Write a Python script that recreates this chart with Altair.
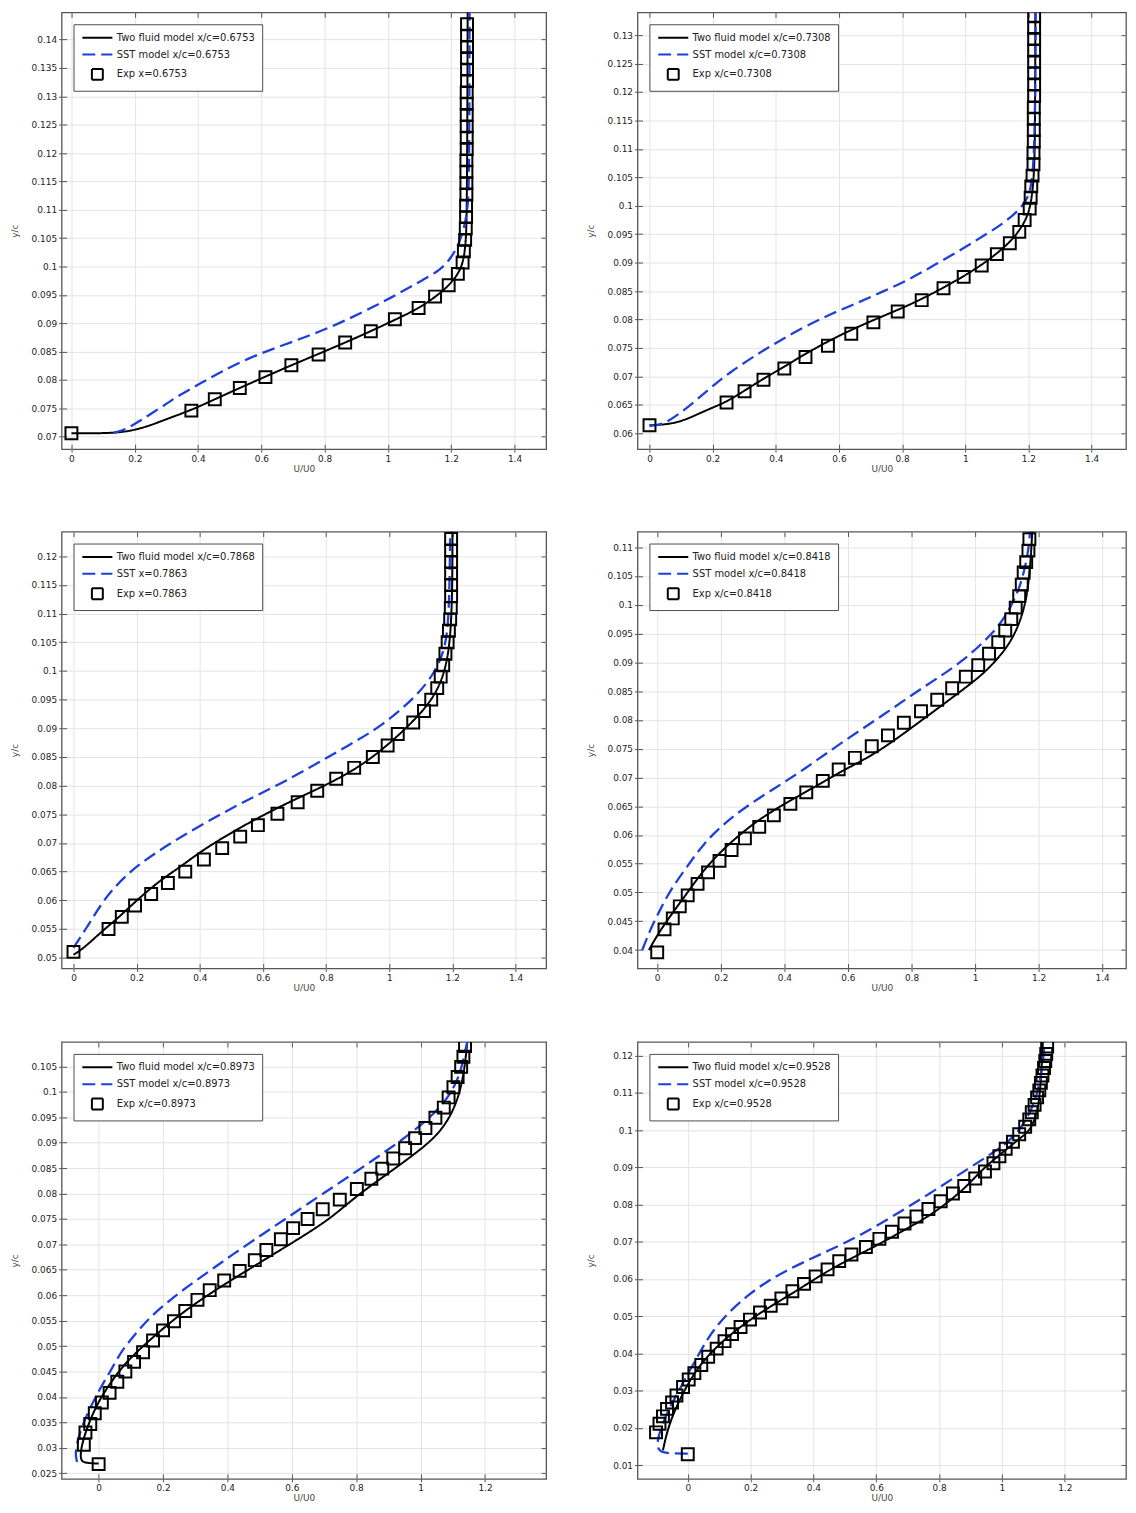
import altair as alt
import pandas as pd

FONT = "DejaVu Sans"
BLUE = "#1f3fdc"

# ---------------- tick values ----------------
X_TICKS_A = [0, 0.2, 0.4, 0.6, 0.8, 1, 1.2, 1.4]
X_TICKS_B = [0, 0.2, 0.4, 0.6, 0.8, 1, 1.2]
Y_TICKS_1 = [0.07, 0.075, 0.08, 0.085, 0.09, 0.095, 0.1, 0.105, 0.11, 0.115, 0.12, 0.125, 0.13, 0.135, 0.14]
Y_TICKS_2 = [0.06, 0.065, 0.07, 0.075, 0.08, 0.085, 0.09, 0.095, 0.1, 0.105, 0.11, 0.115, 0.12, 0.125, 0.13]
Y_TICKS_3 = [0.05, 0.055, 0.06, 0.065, 0.07, 0.075, 0.08, 0.085, 0.09, 0.095, 0.1, 0.105, 0.11, 0.115, 0.12]
Y_TICKS_4 = [0.04, 0.045, 0.05, 0.055, 0.06, 0.065, 0.07, 0.075, 0.08, 0.085, 0.09, 0.095, 0.1, 0.105, 0.11]
Y_TICKS_5 = [0.025, 0.03, 0.035, 0.04, 0.045, 0.05, 0.055, 0.06, 0.065, 0.07, 0.075, 0.08, 0.085, 0.09, 0.095, 0.1, 0.105]
Y_TICKS_6 = [0.01, 0.02, 0.03, 0.04, 0.05, 0.06, 0.07, 0.08, 0.09, 0.1, 0.11, 0.12]

# ---------------- legend labels ----------------
LABELS_1 = ["Two fluid model x/c=0.6753", "SST model x/c=0.6753", "Exp x=0.6753"]
LABELS_2 = ["Two fluid model x/c=0.7308", "SST model x/c=0.7308", "Exp x/c=0.7308"]
LABELS_3 = ["Two fluid model x/c=0.7868", "SST x=0.7863", "Exp x=0.7863"]
LABELS_4 = ["Two fluid model x/c=0.8418", "SST model x/c=0.8418", "Exp x/c=0.8418"]
LABELS_5 = ["Two fluid model x/c=0.8973", "SST model x/c=0.8973", "Exp x/c=0.8973"]
LABELS_6 = ["Two fluid model x/c=0.9528", "SST model x/c=0.9528", "Exp x/c=0.9528"]

# ---------------- panel 1 (x/c = 0.6753) ----------------
TF1_X = [0.0, 0.10, 0.16, 0.20, 0.25, 0.30, 0.379, 0.453, 0.532, 0.613, 0.695, 0.781, 0.865, 0.946, 1.022, 1.097, 1.149, 1.192, 1.221, 1.237, 1.245, 1.250, 1.252]
TF1_Y = [0.0706, 0.0706, 0.0708, 0.0712, 0.0720, 0.0731, 0.0747, 0.0766, 0.0786, 0.0806, 0.0826, 0.0846, 0.0866, 0.0886, 0.0906, 0.0926, 0.0946, 0.0966, 0.0986, 0.1006, 0.1035, 0.108, 0.1448]
SST1_X = [0.132, 0.17, 0.211, 0.284, 0.337, 0.411, 0.474, 0.558, 0.642, 0.726, 0.811, 0.916, 1.010, 1.100, 1.167, 1.201, 1.224, 1.240, 1.252, 1.257, 1.258]
SST1_Y = [0.0707, 0.0712, 0.0726, 0.0752, 0.0772, 0.0795, 0.0815, 0.0838, 0.0856, 0.0873, 0.0891, 0.0918, 0.0945, 0.0973, 0.0994, 0.1016, 0.1040, 0.1066, 0.110, 0.115, 0.1448]
EXP1_X = [0.0, 0.379, 0.453, 0.532, 0.613, 0.695, 0.781, 0.865, 0.946, 1.022, 1.097, 1.149, 1.192, 1.221, 1.236, 1.240, 1.244,
          1.246, 1.247, 1.247, 1.248, 1.248, 1.248, 1.248, 1.249, 1.249, 1.249, 1.249, 1.249, 1.249, 1.250, 1.250, 1.250, 1.250, 1.250, 1.250]
EXP1_Y = [0.0706, 0.0746, 0.0766, 0.0786, 0.0805, 0.0826, 0.0845, 0.0866, 0.0886, 0.0907, 0.0927, 0.0947, 0.0967, 0.0987, 0.1007, 0.1027, 0.1047,
          0.1067, 0.1087, 0.1107, 0.1127, 0.1147, 0.1167, 0.1187, 0.1207, 0.1227, 0.1247, 0.1267, 0.1287, 0.1307, 0.1327, 0.1347, 0.1367, 0.1387, 0.1407, 0.1427]

# ---------------- panel 2 (x/c = 0.7308) ----------------
TF2_X = [0.0, 0.068, 0.12, 0.173, 0.244, 0.301, 0.361, 0.427, 0.5, 0.6, 0.7, 0.8, 0.862, 0.931, 0.995, 1.052, 1.100, 1.141, 1.171, 1.192, 1.205, 1.213, 1.218, 1.221, 1.222]
TF2_Y = [0.0614, 0.0616, 0.0625, 0.0639, 0.0655, 0.0675, 0.0696, 0.0717, 0.0742, 0.0772, 0.0797, 0.0820, 0.0836, 0.0856, 0.0876, 0.0896, 0.0916, 0.0936, 0.0956, 0.0976, 0.0996, 0.1025, 0.106, 0.112, 0.134]
SST2_X = [0.0, 0.047, 0.099, 0.152, 0.204, 0.257, 0.330, 0.403, 0.487, 0.571, 0.654, 0.738, 0.822, 0.906, 0.991, 1.060, 1.116, 1.173, 1.201, 1.213, 1.221, 1.223]
SST2_Y = [0.0613, 0.0616, 0.0636, 0.0660, 0.0685, 0.0708, 0.0735, 0.0760, 0.0786, 0.0809, 0.0828, 0.0849, 0.0870, 0.0897, 0.0924, 0.0948, 0.0967, 0.0993, 0.1016, 0.1045, 0.113, 0.134]
EXP2_X = [0.0, 0.244, 0.301, 0.361, 0.427, 0.494, 0.565, 0.639, 0.709, 0.786, 0.862, 0.931, 0.995, 1.052, 1.100, 1.141, 1.171, 1.188, 1.204, 1.207, 1.209, 1.213,
          1.216, 1.216, 1.217, 1.217, 1.217, 1.217, 1.218, 1.218, 1.218, 1.218, 1.218, 1.218, 1.218, 1.218]
EXP2_Y = [0.0614, 0.0654, 0.0674, 0.0694, 0.0714, 0.0734, 0.0754, 0.0775, 0.0795, 0.0814, 0.0834, 0.0855, 0.0875, 0.0895, 0.0915, 0.0934, 0.0954, 0.0975, 0.0995, 0.1014, 0.1034, 0.1053,
          0.1073, 0.1093, 0.1113, 0.1133, 0.1153, 0.1173, 0.1193, 0.1213, 0.1233, 0.1253, 0.1273, 0.1293, 0.1313, 0.1333]

# ---------------- panel 3 (x/c = 0.7868) ----------------
TF3_X = [0.0, 0.02, 0.045, 0.097, 0.149, 0.202, 0.275, 0.338, 0.40, 0.484, 0.588, 0.693, 0.797, 0.902, 1.0, 1.1, 1.15, 1.18, 1.195, 1.2, 1.2]
TF3_Y = [0.0505, 0.0512, 0.0523, 0.0549, 0.0573, 0.0601, 0.0635, 0.0658, 0.0684, 0.0713, 0.0745, 0.0774, 0.0800, 0.0831, 0.0872, 0.0925, 0.0962, 0.1005, 0.1062, 0.115, 0.1243]
SST3_X = [0.0, 0.045, 0.087, 0.128, 0.191, 0.264, 0.338, 0.421, 0.505, 0.588, 0.672, 0.776, 0.870, 0.975, 1.087, 1.143, 1.176, 1.190, 1.193]
SST3_Y = [0.0517, 0.0555, 0.0593, 0.0622, 0.0656, 0.0684, 0.0710, 0.0736, 0.0762, 0.0785, 0.0808, 0.0840, 0.0870, 0.0903, 0.0956, 0.0996, 0.1036, 0.1093, 0.1243]
EXP3_X = [0.0, 0.111, 0.153, 0.195, 0.246, 0.299, 0.354, 0.413, 0.471, 0.528, 0.584, 0.646, 0.710, 0.772, 0.832, 0.889, 0.948, 0.995, 1.027, 1.076,
          1.110, 1.133, 1.152, 1.163, 1.171, 1.178, 1.185, 1.189, 1.193, 1.195, 1.196, 1.196, 1.196, 1.196, 1.196, 1.196]
EXP3_Y = [0.0510, 0.0550, 0.0571, 0.0591, 0.0611, 0.0630, 0.0650, 0.0671, 0.0691, 0.0711, 0.0731, 0.0751, 0.0771, 0.0791, 0.0812, 0.0831, 0.0850, 0.0870, 0.0890, 0.0910,
          0.0930, 0.0950, 0.0970, 0.0990, 0.1010, 0.1030, 0.1050, 0.1070, 0.1090, 0.1110, 0.1130, 0.1150, 0.1170, 0.1190, 0.1210, 0.1230]

# ---------------- panel 4 (x/c = 0.8418) ----------------
TF4_X = [-0.026, 0.0, 0.042, 0.094, 0.146, 0.198, 0.25, 0.3125, 0.396, 0.479, 0.583, 0.6875, 0.8, 0.9, 1.0, 1.05, 1.1, 1.13, 1.15, 1.165, 1.175, 1.18]
TF4_Y = [0.0400, 0.0426, 0.0460, 0.0499, 0.0539, 0.0570, 0.0596, 0.0624, 0.0653, 0.0678, 0.0712, 0.0741, 0.0786, 0.0827, 0.0868, 0.0893, 0.0925, 0.0955, 0.0985, 0.102, 0.1075, 0.1127]
SST4_X = [-0.047, -0.021, 0.010, 0.042, 0.094, 0.146, 0.208, 0.281, 0.375, 0.46, 0.573, 0.708, 0.842, 0.955, 1.067, 1.112, 1.145, 1.168, 1.173]
SST4_Y = [0.0400, 0.0437, 0.0471, 0.0505, 0.0545, 0.0585, 0.0619, 0.0650, 0.0683, 0.0713, 0.0758, 0.0807, 0.0859, 0.0898, 0.0955, 0.0995, 0.1035, 0.1091, 0.1127]
EXP4_X = [0.0, 0.023, 0.049, 0.071, 0.096, 0.127, 0.160, 0.196, 0.234, 0.276, 0.321, 0.367, 0.419, 0.469, 0.521, 0.571, 0.622, 0.675, 0.726, 0.776,
          0.830, 0.881, 0.928, 0.971, 1.010, 1.044, 1.073, 1.095, 1.114, 1.128, 1.139, 1.147, 1.153, 1.161, 1.168, 1.171]
EXP4_Y = [0.0396, 0.0436, 0.0455, 0.0476, 0.0495, 0.0515, 0.0535, 0.0555, 0.0574, 0.0594, 0.0614, 0.0634, 0.0654, 0.0674, 0.0694, 0.0714, 0.0734, 0.0754, 0.0773, 0.0795,
          0.0815, 0.0835, 0.0855, 0.0875, 0.0895, 0.0915, 0.0935, 0.0955, 0.0975, 0.0995, 0.1015, 0.1035, 0.1056, 0.1074, 0.1094, 0.1114]

# ---------------- panel 5 (x/c = 0.8973) ----------------
TF5_X = [0.0, -0.03, -0.054, -0.057, -0.050, -0.033, -0.012, 0.013, 0.050, 0.091, 0.143, 0.195, 0.257, 0.319, 0.402, 0.485, 0.567, 0.650, 0.730, 0.800, 0.9, 1.0, 1.06, 1.1, 1.125, 1.138, 1.145]
TF5_Y = [0.0269, 0.0270, 0.0272, 0.0287, 0.0312, 0.0344, 0.0376, 0.0405, 0.0440, 0.0472, 0.0503, 0.0532, 0.0564, 0.0592, 0.0626, 0.0658, 0.0690, 0.0722, 0.0756, 0.0795, 0.0840, 0.0886, 0.0920, 0.0960, 0.1005, 0.1053, 0.1098]
SST5_X = [-0.067, -0.073, -0.066, -0.054, -0.033, -0.012, 0.008, 0.039, 0.070, 0.112, 0.153, 0.216, 0.278, 0.350, 0.42, 0.50, 0.65, 0.80, 0.95, 1.05, 1.10, 1.125, 1.140, 1.145]
SST5_Y = [0.0272, 0.0287, 0.0312, 0.0338, 0.0370, 0.0396, 0.0421, 0.0453, 0.0490, 0.0522, 0.0553, 0.0588, 0.0618, 0.0650, 0.0682, 0.0716, 0.0780, 0.0843, 0.0908, 0.0960, 0.1002, 0.1040, 0.1085, 0.1098]
EXP5_X = [0.0, -0.046, -0.041, -0.026, -0.012, 0.010, 0.034, 0.058, 0.083, 0.110, 0.138, 0.169, 0.200, 0.234, 0.269, 0.307, 0.345, 0.390, 0.438, 0.485,
          0.521, 0.566, 0.604, 0.649, 0.696, 0.749, 0.802, 0.847, 0.881, 0.915, 0.952, 0.983, 1.015, 1.046, 1.072, 1.087, 1.102, 1.115, 1.126, 1.133, 1.138]
EXP5_Y = [0.0268, 0.0306, 0.0330, 0.0347, 0.0368, 0.0389, 0.0408, 0.0430, 0.0450, 0.0469, 0.0488, 0.0511, 0.0531, 0.0549, 0.0569, 0.0591, 0.0610, 0.0629, 0.0648, 0.0669,
          0.0689, 0.0710, 0.0732, 0.0750, 0.0769, 0.0788, 0.0809, 0.0829, 0.0849, 0.0869, 0.0889, 0.0909, 0.0929, 0.0949, 0.0969, 0.0989, 0.1009, 0.1029, 0.1049, 0.1069, 0.1090]

# ---------------- panel 6 (x/c = 0.9528) ----------------
TF6_X = [-0.079, -0.066, -0.045, -0.020, 0.005, 0.040, 0.080, 0.130, 0.200, 0.270, 0.350, 0.450, 0.550, 0.630, 0.700, 0.750, 0.820, 0.890, 0.943, 1.017, 1.060, 1.090, 1.104, 1.115, 1.121, 1.129, 1.130]
TF6_Y = [0.0140, 0.0190, 0.0240, 0.0285, 0.0325, 0.0370, 0.0408, 0.0447, 0.0492, 0.0530, 0.0570, 0.0625, 0.0668, 0.0703, 0.0737, 0.0760, 0.0800, 0.0850, 0.0900, 0.0950, 0.0980, 0.1000, 0.1030, 0.1060, 0.1100, 0.1200, 0.1237]
SST6_X = [0.0, -0.040, -0.082, -0.097, -0.096, -0.079, -0.055, -0.029, -0.002, 0.030, 0.062, 0.094, 0.136, 0.189, 0.25, 0.31, 0.38, 0.45, 0.54, 0.656, 0.771, 0.886, 0.977, 1.035, 1.081, 1.115, 1.132, 1.135]
SST6_Y = [0.0131, 0.0131, 0.0133, 0.0145, 0.0170, 0.0215, 0.0259, 0.0298, 0.0342, 0.0390, 0.0438, 0.0476, 0.0515, 0.0555, 0.0592, 0.0621, 0.0650, 0.0677, 0.0713, 0.0770, 0.0830, 0.0893, 0.0942, 0.0978, 0.1029, 0.1099, 0.1186, 0.1237]
EXP6_X = [0.0, -0.101, -0.090, -0.079, -0.066, -0.050, -0.036, -0.015, 0.003, 0.021, 0.043, 0.065, 0.092, 0.117, 0.141, 0.168, 0.198, 0.230, 0.264, 0.298,
          0.333, 0.370, 0.407, 0.445, 0.482, 0.521, 0.567, 0.610, 0.650, 0.690, 0.728, 0.766, 0.805, 0.844, 0.880, 0.915, 0.946, 0.973, 0.992, 1.012,
          1.035, 1.055, 1.074, 1.087, 1.095, 1.104, 1.112, 1.119, 1.124, 1.129, 1.134, 1.138, 1.141, 1.144]
EXP6_Y = [0.0129, 0.0188, 0.0211, 0.0231, 0.0251, 0.0268, 0.0287, 0.0310, 0.0330, 0.0347, 0.0369, 0.0391, 0.0413, 0.0433, 0.0452, 0.0471, 0.0491, 0.0510, 0.0528, 0.0548,
          0.0567, 0.0587, 0.0607, 0.0626, 0.0648, 0.0666, 0.0686, 0.0708, 0.0727, 0.0749, 0.0768, 0.0788, 0.0809, 0.0830, 0.0850, 0.0870, 0.0889, 0.0911, 0.0930, 0.0950,
          0.0969, 0.0989, 0.1009, 0.1029, 0.1048, 0.1068, 0.1088, 0.1107, 0.1127, 0.1147, 0.1167, 0.1186, 0.1205, 0.1225]

LINE_PATH = "M-2.75,0L2.75,0"
SQUARE_PATH = "M-1,-1L1,-1L1,1L-1,1Z"


def frame(xs, ys, label):
    return pd.DataFrame({"x": xs, "y": ys, "series": label, "i": list(range(len(xs)))})


def make_panel(tf_x, tf_y, sst_x, sst_y, exp_x, exp_y, labels, xdom, ydom, xt, yt, w, h):
    tf = frame(tf_x, tf_y, labels[0])
    sst = frame(sst_x, sst_y, labels[1])
    exp = frame(exp_x, exp_y, labels[2])

    leg = dict(title=None, orient="top-left", offset=12, padding=7, fillColor="white",
               strokeColor="#4d4d4d", labelFont=FONT, labelFontSize=10, labelColor="#222222",
               symbolSize=121, symbolStrokeWidth=2, symbolOffset=10.5, labelOffset=13,
               rowPadding=5, labelLimit=400, symbolFillColor="transparent")
    color = alt.Color("series:N", scale=alt.Scale(domain=labels, range=["#000000", BLUE, "#000000"]),
                      legend=alt.Legend(**leg))
    dash = alt.StrokeDash("series:N", scale=alt.Scale(domain=labels, range=[[1, 0], [13, 6], [1, 0]]),
                          legend=alt.Legend(**leg))
    shape = alt.Shape("series:N", scale=alt.Scale(domain=labels, range=[LINE_PATH, LINE_PATH, SQUARE_PATH]),
                      legend=alt.Legend(**leg))

    xs = alt.Scale(domain=xdom, nice=False, zero=False)
    ys = alt.Scale(domain=ydom, nice=False, zero=False)

    main_x = alt.X("x:Q", scale=xs, axis=alt.Axis(values=xt, format="~g", title="U/U0", grid=True,
                                                   tickSize=3, labelPadding=2, titlePadding=0,
                                                   minExtent=15, maxExtent=15))
    main_y = alt.Y("y:Q", scale=ys, axis=alt.Axis(values=yt, format="~g", title="y/c", grid=True,
                                                   tickSize=3, labelPadding=2, titlePadding=10,
                                                   minExtent=32, maxExtent=32))
    in_bx = alt.X("x:Q", scale=xs, axis=alt.Axis(values=xt, orient="bottom", offset=-5, labels=False,
                                                  grid=False, tickSize=5, title=None))
    in_ly = alt.Y("y:Q", scale=ys, axis=alt.Axis(values=yt, orient="left", offset=-5, labels=False,
                                                  grid=False, tickSize=5, title=None))
    in_tx = alt.X("x:Q", scale=xs, axis=alt.Axis(values=xt, orient="top", offset=-5, labels=False,
                                                  grid=False, tickSize=5, title=None))
    in_ry = alt.Y("y:Q", scale=ys, axis=alt.Axis(values=yt, orient="right", offset=-5, labels=False,
                                                  grid=False, tickSize=5, title=None))

    a = alt.Chart(tf).mark_line(strokeWidth=2, clip=True, interpolate="basis").encode(
        x=main_x, y=main_y, color=color, strokeDash=dash, order="i:Q")
    b = alt.Chart(sst).mark_line(strokeWidth=2.3, clip=True, interpolate="basis").encode(
        x=in_bx, y=in_ly, color=color, strokeDash=dash, order="i:Q")
    c = alt.Chart(exp).mark_point(filled=False, size=144, strokeWidth=2, clip=True, opacity=1).encode(
        x=in_tx, y=in_ry, color=color, shape=shape)
    return alt.layer(a, b, c).resolve_axis(x="independent", y="independent").properties(width=w, height=h)


RES = dict(color="independent", strokeDash="independent", shape="independent", x="independent", y="independent")

p1 = make_panel(TF1_X, TF1_Y, SST1_X, SST1_Y, EXP1_X, EXP1_Y, LABELS_1, [-0.031, 1.5], [0.0678, 0.1448], X_TICKS_A, Y_TICKS_1, 488, 440)
p2 = make_panel(TF2_X, TF2_Y, SST2_X, SST2_Y, EXP2_X, EXP2_Y, LABELS_2, [-0.038, 1.509], [0.0572, 0.134], X_TICKS_A, Y_TICKS_2, 492, 440)
p3 = make_panel(TF3_X, TF3_Y, SST3_X, SST3_Y, EXP3_X, EXP3_Y, LABELS_3, [-0.0376, 1.497], [0.0481, 0.1243], X_TICKS_A, Y_TICKS_3, 488, 440)
p4 = make_panel(TF4_X, TF4_Y, SST4_X, SST4_Y, EXP4_X, EXP4_Y, LABELS_4, [-0.062, 1.475], [0.0368, 0.1127], X_TICKS_A, Y_TICKS_4, 492, 440)
p5 = make_panel(TF5_X, TF5_Y, SST5_X, SST5_Y, EXP5_X, EXP5_Y, LABELS_5, [-0.115, 1.39], [0.0239, 0.1098], X_TICKS_B, Y_TICKS_5, 488, 440)
p6 = make_panel(TF6_X, TF6_Y, SST6_X, SST6_Y, EXP6_X, EXP6_Y, LABELS_6, [-0.16, 1.395], [0.0063, 0.1237], X_TICKS_B, Y_TICKS_6, 492, 440)

row1 = alt.hconcat(p1, p2, spacing=38).resolve_scale(**RES)
row2 = alt.hconcat(p3, p4, spacing=38).resolve_scale(**RES)
row3 = alt.hconcat(p5, p6, spacing=38).resolve_scale(**RES)
lower = alt.vconcat(row2, row3, spacing=47).resolve_scale(**RES)

chart = (
    alt.vconcat(row1, lower, spacing=56)
    .resolve_scale(**RES)
    .properties(padding={"left": 2, "top": -3, "right": 0, "bottom": 0}, background="white")
    .configure_view(stroke="#555555", strokeWidth=1.3)
    .configure_axis(labelFont=FONT, titleFont=FONT, labelFontSize=9, titleFontSize=9,
                    titleFontWeight="normal", labelColor="#222222", titleColor="#444444",
                    tickColor="#555555", gridColor="#e4e4e4", gridWidth=1, domain=False,
                    labelFlush=False)
)

chart.save("out.html", embed_options={"renderer": "svg", "actions": False})
